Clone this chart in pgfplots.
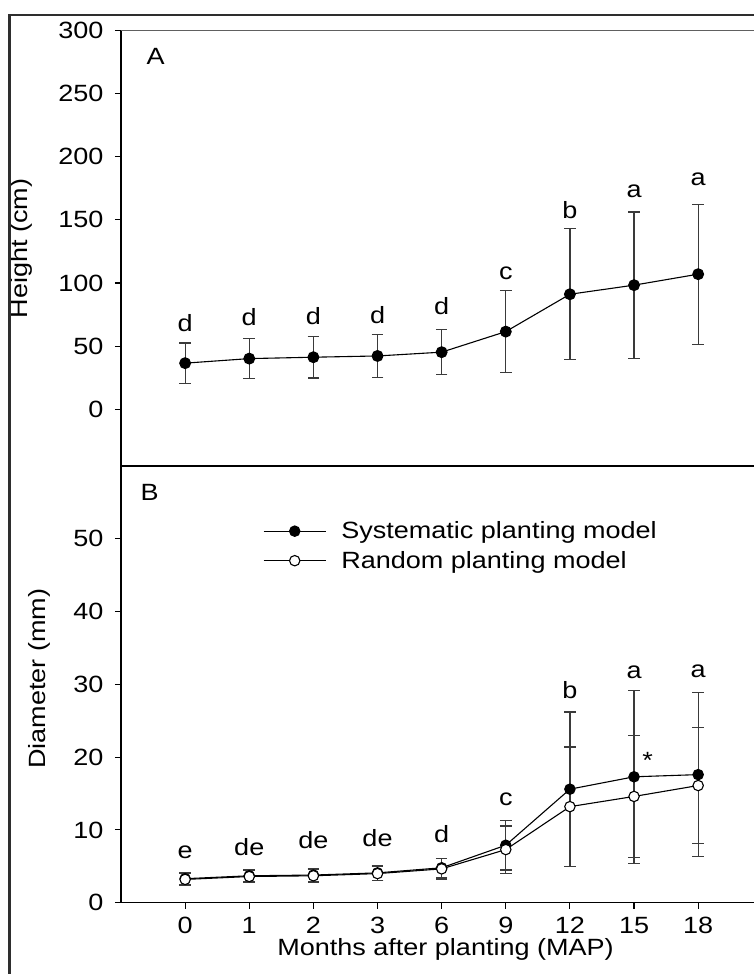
\documentclass[border=0pt]{standalone}
\usepackage{fontspec}
\setmainfont[FakeStretch=1.15]{Liberation Sans}
\usepackage{pgfplots}
\usepackage{pgfplotstable}
\pgfplotsset{compat=1.18}
\newcommand\fs{\fontsize{23.5}{28}\selectfont}
\definecolor{errc}{HTML}{3A3A3A}
\definecolor{frame}{HTML}{2E2E2E}

\pgfplotstableread{
x y e
0 36.5 16
1 40.1 16
2 41.2 16.4
3 42.2 17
4 45.2 18
5 61.5 32.5
6 91.1 52
7 98.3 58
8 107 55.5
}\heightdata

\pgfplotstableread{
x y e
0 3.3 0.85
1 3.7 0.8
2 3.8 0.9
3 4.1 1.0
4 4.8 1.3
5 7.9 3.4
6 15.6 10.6
7 17.3 11.9
8 17.6 11.3
}\sysdata

\pgfplotstableread{
x y e
0 3.2 0.85
1 3.6 0.8
2 3.7 0.9
3 4.0 1.0
4 4.65 1.4
5 7.3 3.25
6 13.2 8.2
7 14.6 8.4
8 16.1 8.0
}\randdata

\pgfplotsset{
  common/.style={
    scale only axis, width=641.3pt,
    xmin=-1, xmax=9,
    axis x line*=bottom, axis y line*=left,
    axis line style={black, line width=1.3pt},
    tick style={black, line width=1.1pt},
    tick align=outside, major tick length=6pt,
    tick label style={font=\fs},
    yticklabel style={xshift=-8pt},
    xticklabel style={yshift=-5pt},
    label style={font=\fs},
    /pgf/number format/assume math mode=true,
    clip=false,
  },
  errstyle/.style={
    error bars/.cd, y dir=both, y explicit,
    error bar style={errc, line width=1.2pt},
    error mark options={rotate=90, mark size=5.8pt, errc, line width=1.2pt},
  },
}

\begin{document}
\begin{tikzpicture}[x=1pt,y=1pt]
\path[use as bounding box] (0,0) rectangle (754,-974);

% Panel A
\begin{axis}[common,
  at={(121pt,-466pt)}, anchor=south west,
  height=435.4pt,
  ymin=-45, ymax=300,
  ytick={0,50,...,300},
  xtick=\empty,
  ylabel={Height (cm)},
  ylabel style={at={(axis description cs:-0.1458,0.5)}, anchor=base},
]
\addplot[black, line width=1.1pt, mark=*, mark size=5.4pt, mark options={fill=black, solid},
  errstyle] table[x=x, y=y, y error=e]{\heightdata};
\draw[gray!75!black, line width=1.3pt] (rel axis cs:0,1) -- (rel axis cs:1.1,1);
\node[font=\fs, anchor=base west] at (rel axis cs:0.0343,0.921) {A};
\node[font=\fs, anchor=base] at (axis cs:0,61.5) {d};
\node[font=\fs, anchor=base] at (axis cs:1,66) {d};
\node[font=\fs, anchor=base] at (axis cs:2,66.8) {d};
\node[font=\fs, anchor=base] at (axis cs:3,68) {d};
\node[font=\fs, anchor=base] at (axis cs:4,75.3) {d};
\node[font=\fs, anchor=base] at (axis cs:5,102.5) {c};
\node[font=\fs, anchor=base] at (axis cs:6,151.3) {b};
\node[font=\fs, anchor=base] at (axis cs:7,168) {a};
\node[font=\fs, anchor=base] at (axis cs:8,177.2) {a};
\end{axis}

% Panel B
\begin{axis}[common,
  at={(121pt,-902.7pt)}, anchor=south west,
  height=436.7pt,
  ymin=0, ymax=60,
  ytick={0,10,...,50},
  xtick={0,...,8},
  xticklabels={0,1,2,3,6,9,12,15,18},
  ylabel={Diameter (mm)},
  ylabel style={at={(axis description cs:-0.118,0.513)}, anchor=base},
  xlabel={Months after planting (MAP)},
  xlabel style={at={(axis description cs:0.506,-0.1205)}, anchor=base},
  legend style={at={(rel axis cs:0.2214,0.817)}, anchor=west, draw=none, fill=none,
    inner sep=0pt, font=\fs, row sep=11pt,
    nodes={inner sep=0pt},
    /tikz/every odd column/.append style={column sep=15pt}},
  legend cell align=left,
  legend image code/.code={\draw[mark repeat=2,mark phase=2,#1] plot coordinates {(0pt,0pt) (31pt,0pt) (62pt,0pt)};},
]
\addplot[black, line width=1.1pt, mark=*, mark size=5.2pt, mark options={fill=black, solid},
  errstyle] table[x=x, y=y, y error=e]{\sysdata};
\addlegendentry{Systematic planting model}
\addplot[black, line width=1.1pt, mark=*, mark size=5.2pt, mark options={fill=white, solid},
  errstyle] table[x=x, y=y, y error=e]{\randdata};
\addlegendentry{Random planting model}
\draw[black, line width=1.3pt] (rel axis cs:0,1) -- (rel axis cs:1.1,1);
\node[font=\fs, anchor=base west] at (rel axis cs:0.025,0.92) {B};
\node[font=\fs, anchor=base] at (axis cs:0,6.1) {e};
\node[font=\fs, anchor=base] at (axis cs:1,6.55) {de};
\node[font=\fs, anchor=base] at (axis cs:2,7.5) {de};
\node[font=\fs, anchor=base] at (axis cs:3,7.7) {de};
\node[font=\fs, anchor=base] at (axis cs:4,8.3) {d};
\node[font=\fs, anchor=base] at (axis cs:5,13.4) {c};
\node[font=\fs, anchor=base] at (axis cs:6,28.1) {b};
\node[font=\fs, anchor=base] at (axis cs:7,30.8) {a};
\node[font=\fs, anchor=base] at (axis cs:8,31.0) {a};
\node[font=\fs, anchor=base] at (axis cs:7.21,18.5) {*};
\end{axis}

\draw[frame, line width=2.7pt] (9.7,-980) -- (9.7,-15) -- (760,-15);
\end{tikzpicture}
\end{document}
